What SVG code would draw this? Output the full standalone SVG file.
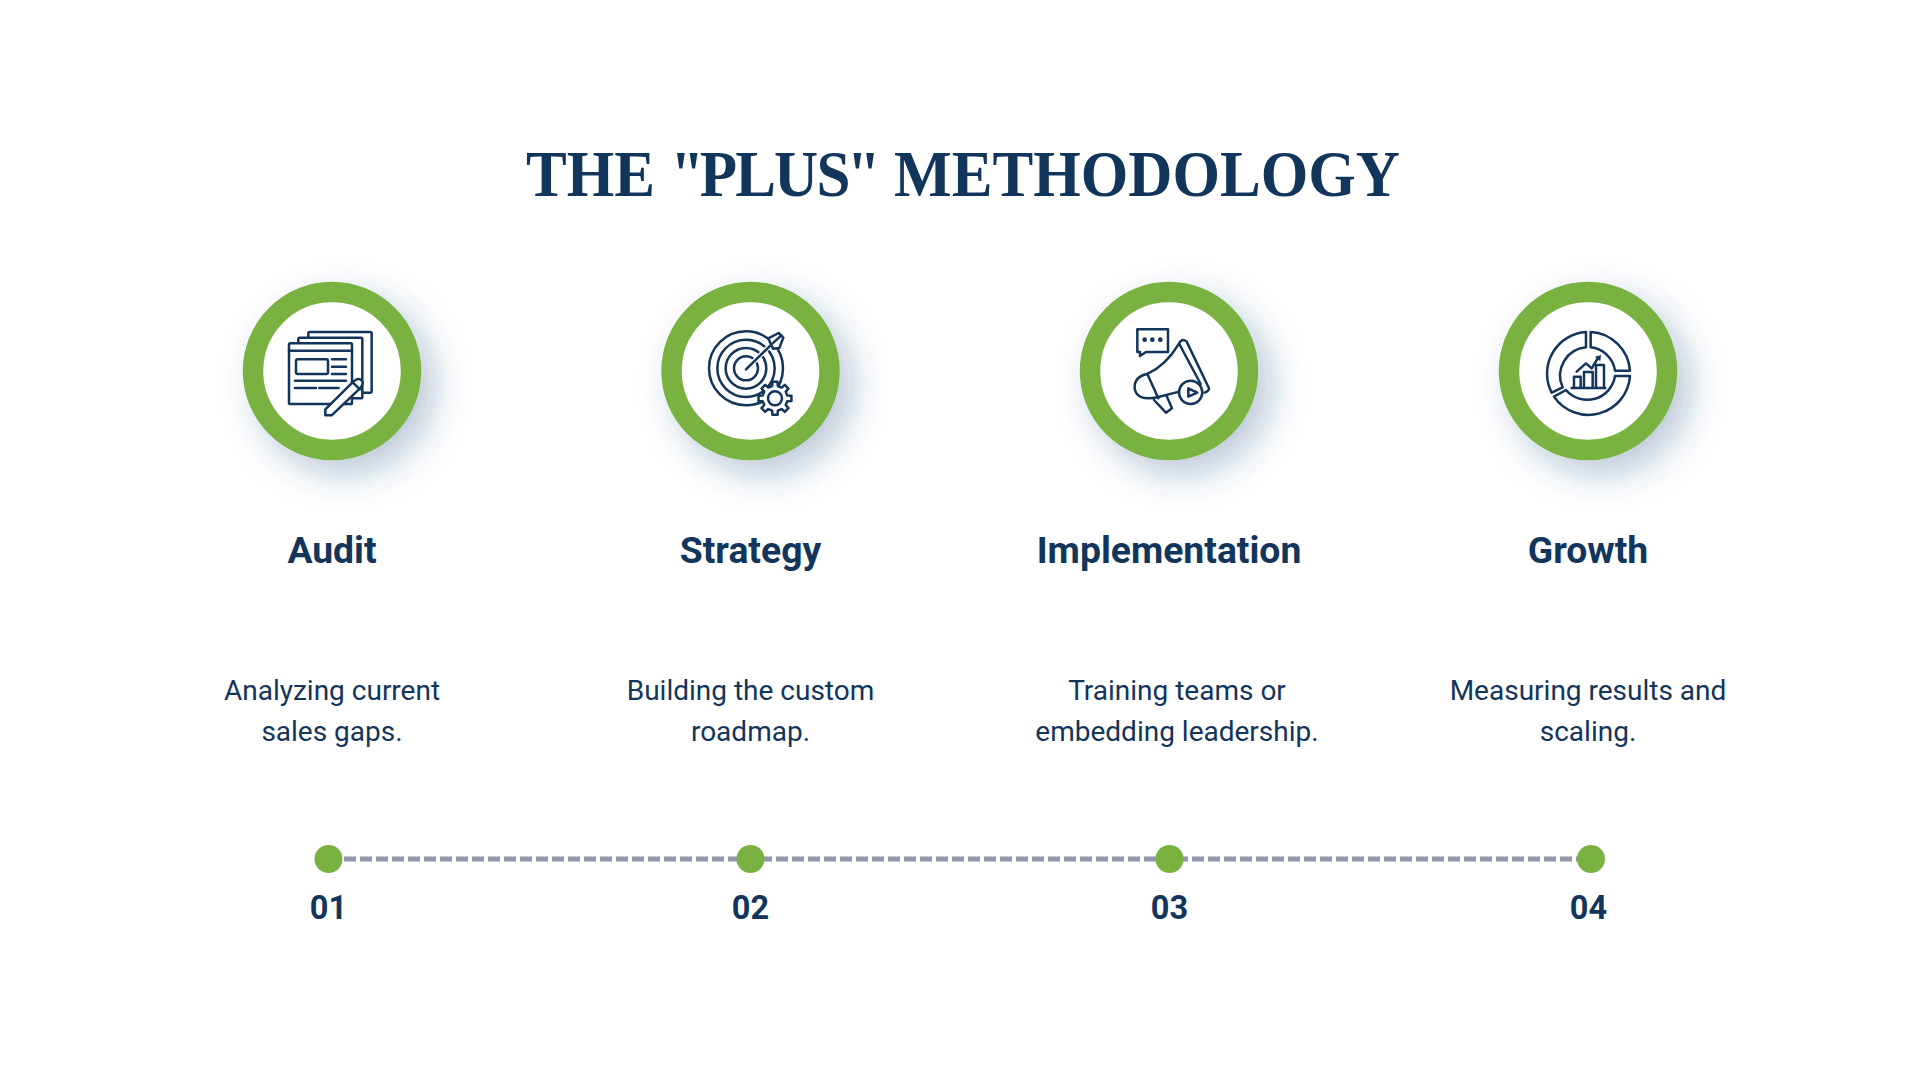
<svg xmlns="http://www.w3.org/2000/svg" width="1920" height="1080" viewBox="0 0 1920 1080">
<style>
text{fill:#12355b;text-anchor:middle}
.title{font-family:"Liberation Serif",serif;font-weight:700;font-size:66px}
.head{font-family:Roboto,sans-serif;font-weight:700;font-size:37.3px}
.body{font-family:Roboto,sans-serif;font-weight:400;font-size:28px}
.num{font-family:Roboto,sans-serif;font-weight:700;font-size:32.5px}
.ring{fill:#fff;stroke:#7ab242;stroke-width:20.5;filter:url(#sh)}
.dot{fill:#7ab242}
.ic{fill:none;stroke:#12355b;stroke-width:7.5;stroke-linejoin:round;stroke-linecap:round}
.w{fill:#fff}
.f{fill:#12355b;stroke:none}
</style>
<defs>
<filter id="sh" x="-50%" y="-50%" width="220%" height="220%"><feDropShadow dx="13" dy="14" stdDeviation="17" flood-color="#24477f" flood-opacity="0.3"/></filter>
</defs>
<rect width="1920" height="1080" fill="#fff"/>
<text id="title" class="title" x="963" y="196" dx="0 0 0 0 0 -5 -2 -2 -2 -4 -2 0" textLength="874" lengthAdjust="spacingAndGlyphs">THE "PLUS" METHODOLOGY</text>

<g id="connectors">
<line x1="344" y1="859" x2="1578" y2="859" stroke="#9195ae" stroke-width="5" stroke-dasharray="12 4"/>
</g>

<g id="node-audit">
<circle class="ring" cx="332" cy="371" r="79"/>
<g class="ic" transform="translate(220 260) scale(.3333)">
<rect class="w" x="265" y="216" width="190" height="182" rx="4"/>
<rect class="w" x="235" y="233" width="192" height="182" rx="4"/>
<rect class="w" x="207" y="250" width="189" height="182" rx="4"/>
<path d="M207 272H396"/>
<rect x="228" y="298" width="96" height="44" rx="5"/>
<path d="M336 298H378M336 320H378M336 342H378M225 362H378M225 384H288M298 384H356"/>
<path class="w" d="M316 448L400 365Q415 350 426 362Q432 372 420 385L335 466H316Z"/>
<path d="M398 367L420 388"/>
</g>
<text class="head" x="332" y="563">Audit</text>
<text class="body" x="332" y="700">Analyzing current</text>
<text class="body" x="332" y="741">sales gaps.</text>
</g>

<g id="node-strategy">
<circle class="ring" cx="750.5" cy="371" r="79"/>
<g class="ic" transform="translate(640 260) scale(.3333)">
<circle cx="318" cy="325" r="111"/>
<circle cx="318" cy="325" r="86"/>
<circle cx="318" cy="325" r="61"/>
<circle cx="318" cy="325" r="36"/>
<path d="M318 328L395 252" stroke="#fff" stroke-width="15"/>
<path d="M318 328L398 250"/>
<path class="w" d="M385 235L416 219L430 233L418 264L399 266Z"/>
<path d="M398 250L424 226"/>
<g transform="translate(405 415)">
<path class="w" d="M37 -8.5L49.4 -7.8L49.4 7.8L37 8.5L32.2 20.1L40.4 29.4L29.4 40.4L20.1 32.2L8.5 37L7.8 49.4L-7.8 49.4L-8.5 37L-20.1 32.2L-29.4 40.4L-40.4 29.4L-32.2 20.1L-37 8.5L-49.4 7.8L-49.4 -7.8L-37 -8.5L-32.2 -20.1L-40.4 -29.4L-29.4 -40.4L-20.1 -32.2L-8.5 -37L-7.8 -49.4L7.8 -49.4L8.5 -37L20.1 -32.2L29.4 -40.4L40.4 -29.4L32.2 -20.1Z"/>
<circle r="21"/>
</g>
</g>
<text class="head" x="750.5" y="563">Strategy</text>
<text class="body" x="750.5" y="700">Building the custom</text>
<text class="body" x="750.5" y="741">roadmap.</text>
</g>

<g id="node-implementation">
<circle class="ring" cx="1169" cy="371" r="79"/>
<g class="ic" transform="translate(1060 260) scale(.3333)">
<path d="M232 208H324V276H258L240 288V276H232Z"/>
<circle class="f" cx="254" cy="239" r="7"/>
<circle class="f" cx="277" cy="239" r="7"/>
<circle class="f" cx="301" cy="239" r="7"/>
<path d="M262 342Q318 316 355 254Q365 232 380 245L447 385Q447 394 434 398"/>
<path d="M358 252L422 372"/>
<path d="M262 342Q222 350 224 385Q230 424 292 412L358 395"/>
<path d="M262 342L295 415"/>
<path d="M282 420L318 458L336 445L320 408"/>
<circle class="w" cx="392" cy="397" r="35"/>
<path d="M385 385L412 398L385 410Z"/>
</g>
<text class="head" x="1169" y="563">Implementation</text>
<text class="body" x="1177" y="700">Training teams or</text>
<text class="body" x="1177" y="741">embedding leadership.</text>
</g>

<g id="node-growth">
<circle class="ring" cx="1588" cy="371" r="79"/>
<g class="ic" transform="translate(1480 260) scale(.3333)">
<path d="M332 216A125 125 0 0 1 450 332H405A82 82 0 0 0 332 262Z"/>
<path d="M318 216A125 125 0 0 0 215 398L248 382A85 85 0 0 1 318 262Z"/>
<path d="M450 348A125 125 0 0 1 222 410L258 390A84 84 0 0 0 405 348Z"/>
<path d="M275 384H376M282 384V350H302V384M312 384V336H338V384M348 384V315H372V384"/>
<path d="M290 335L318 310L335 325L354 294"/>
<path class="f" d="M345 290L363 285L361 304Z"/>
</g>
<text class="head" x="1588" y="563">Growth</text>
<text class="body" x="1588" y="700">Measuring results and</text>
<text class="body" x="1588" y="741">scaling.</text>
</g>

<g id="step-01"><circle class="dot" cx="328.5" cy="859" r="14"/><text class="num" x="328.5" y="919">01</text></g>
<g id="step-02"><circle class="dot" cx="750.5" cy="859" r="14"/><text class="num" x="750.5" y="919">02</text></g>
<g id="step-03"><circle class="dot" cx="1169.5" cy="859" r="14"/><text class="num" x="1169.5" y="919">03</text></g>
<g id="step-04"><circle class="dot" cx="1591" cy="859" r="14"/><text class="num" x="1588.5" y="919">04</text></g>
</svg>
